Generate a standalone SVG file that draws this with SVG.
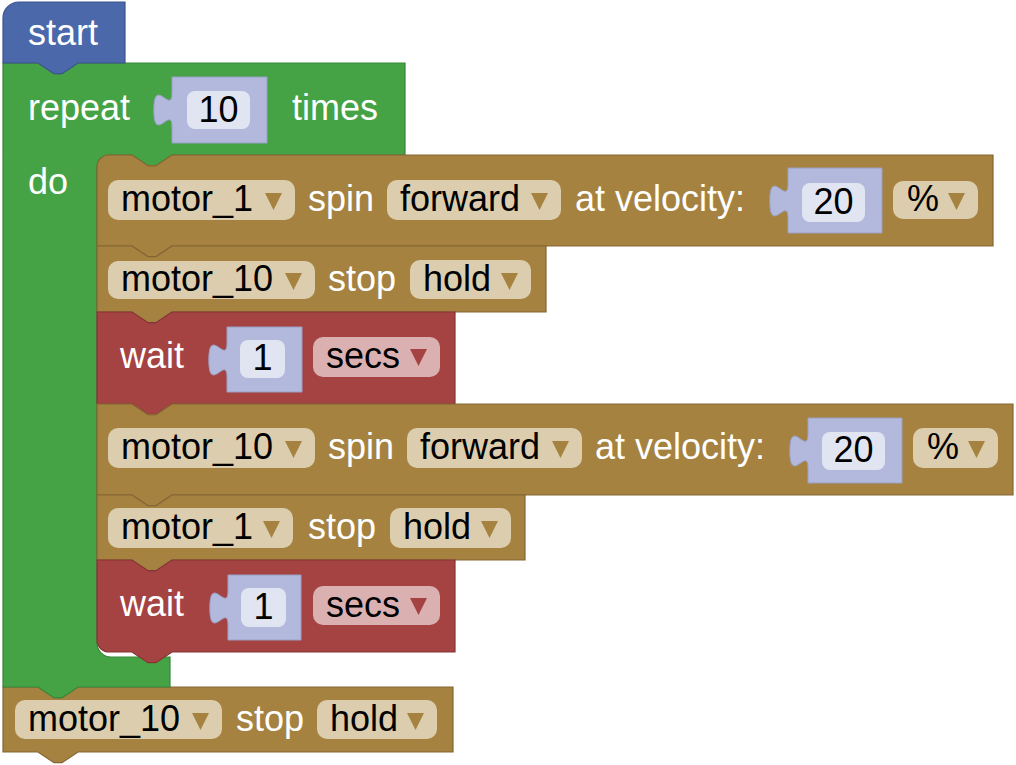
<svg xmlns="http://www.w3.org/2000/svg" width="1016" height="765" viewBox="0 0 1016 765">
<style>
.brown{fill:#a58240;stroke:#836633;stroke-width:1.2}
.green{fill:#45a345;stroke:#38873a;stroke-width:1.2}
.blue{fill:#4a68aa;stroke:#3c558c;stroke-width:1.2}
.red{fill:#a54242;stroke:#863535;stroke-width:1.2}
.lbl{font-family:"Liberation Sans",Arial,sans-serif;font-size:36px;fill:#ffffff}
.fld{font-family:"Liberation Sans",Arial,sans-serif;font-size:36px;fill:#000000}
.num{font-family:"Liberation Sans",Arial,sans-serif;font-size:36px;fill:#000000;text-anchor:middle}
.pill{fill:#dbcdad}
.rpill{fill:#dbb0b0}
.nblk{fill:#b3b9dd;stroke:#9aa0c4;stroke-width:1}
.nfld{fill:#e1e5f2}
.arr{fill:#a58240}
.rarr{fill:#a54242}
</style>
<rect width="1016" height="765" fill="#ffffff"/>

<g id="stop-bottom">
<path class="brown" d="M3,687 H38 l16,10.7 h8 l16,-10.7 H453 V752 H78 l-16,10.7 h-8 l-16,-10.7 H3 Z"/>
<rect class="pill" x="15" y="700" width="207" height="39" rx="10"/>
<text class="fld" x="28" y="731">motor_10</text>
<polygon class="arr" points="192,713 209,713 200.5,730"/>
<text class="lbl" x="236" y="731">stop</text>
<rect class="pill" x="317" y="700" width="120" height="39" rx="10"/>
<text class="fld" x="330" y="731">hold</text>
<polygon class="arr" points="407,713 424,713 415.5,730"/>
</g>

<g id="repeat">
<path class="green" d="M3,63 H38 l16,10.7 h8 l16,-10.7 H405 V155 H172 l-16,10.7 h-8 l-16,-10.7 H109 a12,12 0 0 0 -12,12 V643 a14,14 0 0 0 14,14 H170 V687 H78 l-16,10.7 h-8 l-16,-10.7 H3 Z"/>
<text class="lbl" x="28" y="120">repeat</text>
<path class="nblk" d="M172,77 H267 V143 H172 V127 c0,-22.7 -18.2,18.2 -18.2,-17 c0,-35.2 18.2,5.7 18.2,-17 Z"/>
<rect class="nfld" x="187" y="91" width="63" height="38" rx="8"/>
<text class="num" x="218.5" y="122">10</text>
<text class="lbl" x="292" y="120">times</text>
<text class="lbl" x="28" y="194">do</text>
</g>

<g id="start">
<path class="blue" d="M3,18 a16,16 0 0 1 16,-16 H125 V63 H78 l-16,10.7 h-8 l-16,-10.7 H3 Z"/>
<text class="lbl" x="28" y="45">start</text>
</g>

<g id="spin-1">
<path class="brown" d="M97,167 a12,12 0 0 1 12,-12 H132 l16,10.7 h8 l16,-10.7 H993 V246 H172 l-16,10.7 h-8 l-16,-10.7 H97 Z"/>
<rect class="pill" x="108" y="180" width="187" height="40" rx="10"/>
<text class="fld" x="121" y="211">motor_1</text>
<polygon class="arr" points="265,193 282,193 273.5,210"/>
<text class="lbl" x="308" y="211">spin</text>
<rect class="pill" x="387" y="180" width="174" height="40" rx="10"/>
<text class="fld" x="400" y="211">forward</text>
<polygon class="arr" points="531,193 548,193 539.5,210"/>
<text class="lbl" x="575" y="211">at velocity:</text>
<path class="nblk" d="M788,168 H882 V233 H788 V218 c0,-22.7 -18.2,18.2 -18.2,-17 c0,-35.2 18.2,5.7 18.2,-17 Z"/>
<rect class="nfld" x="802" y="183" width="63" height="39" rx="8"/>
<text class="num" x="833.5" y="214">20</text>
<rect class="pill" x="893" y="181" width="85" height="38" rx="10"/>
<text class="fld" x="907" y="211">%</text>
<polygon class="arr" points="948,193 965,193 956.5,210"/>
</g>

<g id="stop-1">
<path class="brown" d="M97,246 H132 l16,10.7 h8 l16,-10.7 H546 V312 H172 l-16,10.7 h-8 l-16,-10.7 H97 Z"/>
<rect class="pill" x="108" y="261" width="207" height="38" rx="10"/>
<text class="fld" x="121" y="291">motor_10</text>
<polygon class="arr" points="285,273 302,273 293.5,290"/>
<text class="lbl" x="328" y="291">stop</text>
<rect class="pill" x="410" y="260" width="121" height="39" rx="10"/>
<text class="fld" x="423" y="291">hold</text>
<polygon class="arr" points="501,273 518,273 509.5,290"/>
</g>

<g id="wait-1">
<path class="red" d="M97,312 H132 l16,10.7 h8 l16,-10.7 H455 V404 H172 l-16,10.7 h-8 l-16,-10.7 H97 Z"/>
<text class="lbl" x="120" y="368">wait</text>
<path class="nblk" d="M227,327 H302 V392 H227 V377 c0,-22.7 -18.2,18.2 -18.2,-17 c0,-35.2 18.2,5.7 18.2,-17 Z"/>
<rect class="nfld" x="240" y="340" width="45" height="38" rx="8"/>
<text class="num" x="262.5" y="370">1</text>
<rect class="rpill" x="313" y="337" width="127" height="40" rx="10"/>
<text class="fld" x="326" y="368">secs</text>
<polygon class="rarr" points="410,349 427,349 418.5,366"/>
</g>

<g id="spin-10">
<path class="brown" d="M97,404 H132 l16,10.7 h8 l16,-10.7 H1013 V495 H172 l-16,10.7 h-8 l-16,-10.7 H97 Z"/>
<rect class="pill" x="108" y="428" width="207" height="40" rx="10"/>
<text class="fld" x="121" y="459">motor_10</text>
<polygon class="arr" points="285,441 302,441 293.5,458"/>
<text class="lbl" x="328" y="459">spin</text>
<rect class="pill" x="407" y="428" width="175" height="40" rx="10"/>
<text class="fld" x="420" y="459">forward</text>
<polygon class="arr" points="552,441 569,441 560.5,458"/>
<text class="lbl" x="595" y="459">at velocity:</text>
<path class="nblk" d="M808,418 H902 V483 H808 V468 c0,-22.7 -18.2,18.2 -18.2,-17 c0,-35.2 18.2,5.7 18.2,-17 Z"/>
<rect class="nfld" x="822" y="432" width="63" height="38" rx="8"/>
<text class="num" x="853.5" y="462">20</text>
<rect class="pill" x="913" y="428" width="85" height="40" rx="10"/>
<text class="fld" x="927" y="459">%</text>
<polygon class="arr" points="968,441 985,441 976.5,458"/>
</g>

<g id="stop-2">
<path class="brown" d="M97,495 H132 l16,10.7 h8 l16,-10.7 H525 V560 H172 l-16,10.7 h-8 l-16,-10.7 H97 Z"/>
<rect class="pill" x="108" y="508" width="185" height="40" rx="10"/>
<text class="fld" x="121" y="539">motor_1</text>
<polygon class="arr" points="263,521 280,521 271.5,538"/>
<text class="lbl" x="308" y="539">stop</text>
<rect class="pill" x="390" y="508" width="121" height="40" rx="10"/>
<text class="fld" x="403" y="539">hold</text>
<polygon class="arr" points="481,521 498,521 489.5,538"/>
</g>

<g id="wait-2">
<path class="red" d="M97,560 H132 l16,10.7 h8 l16,-10.7 H455 V652 H172 l-16,10.7 h-8 l-16,-10.7 H109 a12,12 0 0 1 -12,-12 Z"/>
<text class="lbl" x="120" y="616">wait</text>
<path class="nblk" d="M228,575 H301 V640 H228 V625 c0,-22.7 -18.2,18.2 -18.2,-17 c0,-35.2 18.2,5.7 18.2,-17 Z"/>
<rect class="nfld" x="241" y="588" width="45" height="39" rx="8"/>
<text class="num" x="263.5" y="619">1</text>
<rect class="rpill" x="313" y="586" width="127" height="39" rx="10"/>
<text class="fld" x="326" y="617">secs</text>
<polygon class="rarr" points="410,598 427,598 418.5,615"/>
</g>
</svg>
